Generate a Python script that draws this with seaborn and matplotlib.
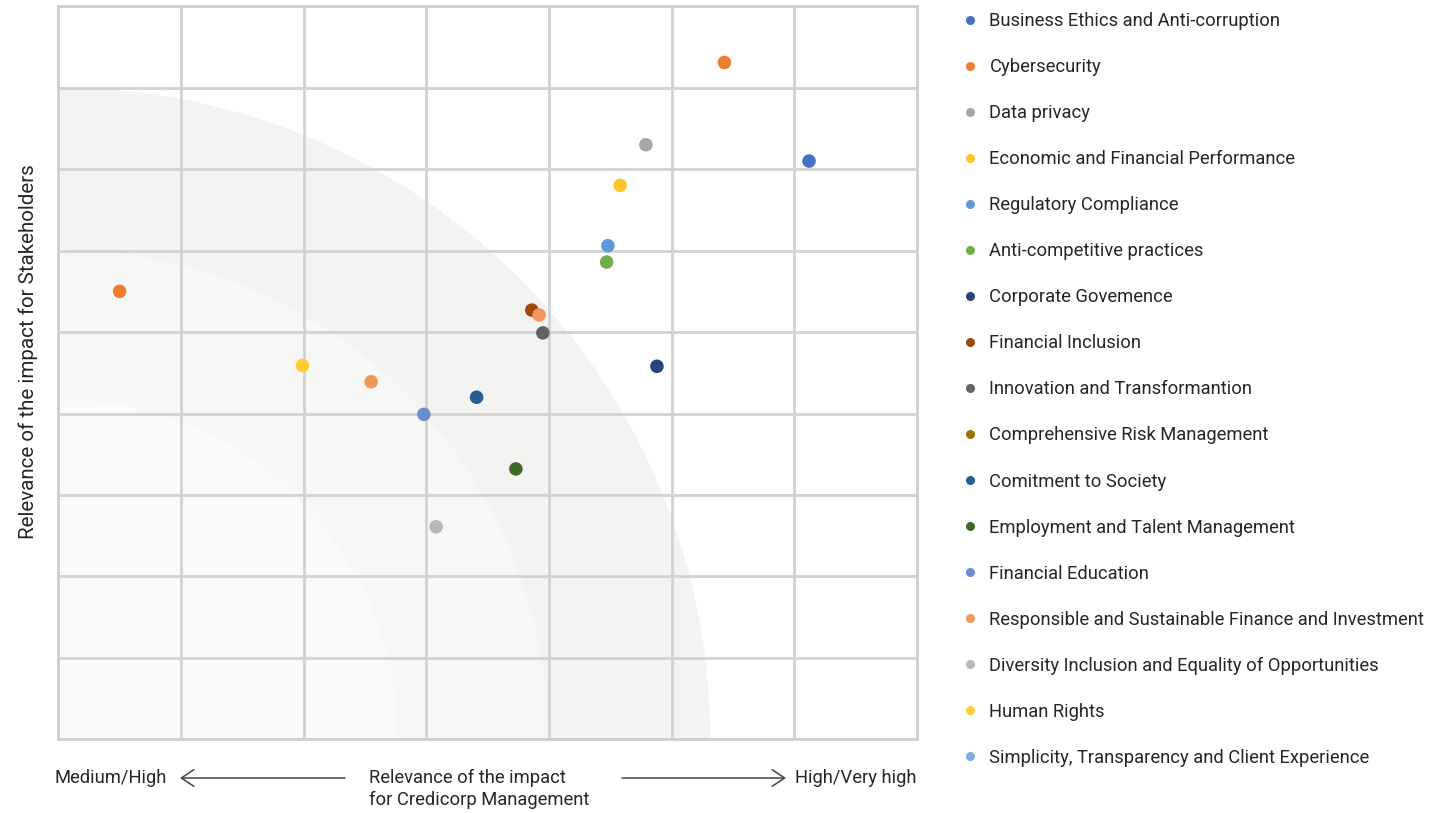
import matplotlib
matplotlib.use("Agg")
import matplotlib.pyplot as plt
from matplotlib.patches import Ellipse, FancyArrowPatch
from matplotlib.lines import Line2D
import seaborn as sns
import pandas as pd

# ---- data ----
categories = [
    "Business Ethics and Anti-corruption",
    "Cybersecurity",
    "Data privacy",
    "Economic and Financial Performance",
    "Regulatory Compliance",
    "Anti-competitive practices",
    "Corporate Govemence",
    "Financial Inclusion",
    "Innovation and Transformantion",
    "Comprehensive Risk Management",
    "Comitment to Society",
    "Employment and Talent Management",
    "Financial Education",
    "Responsible and Sustainable Finance and Investment",
    "Diversity Inclusion and Equality of Opportunities",
    "Human Rights",
    "Simplicity, Transparency and Client Experience",
]
colors = [
    "#4472C4", "#ED7D31", "#A5A5A5", "#FFC32E", "#5B9BD5", "#70AD47",
    "#264478", "#9E480E", "#636363", "#997300", "#255E91", "#43682B",
    "#698ED0", "#F1975A", "#B7B7B7", "#FFCD33", "#7CAFDD",
]

point_category = [
    "Business Ethics and Anti-corruption",
    "Cybersecurity",
    "Data privacy",
    "Economic and Financial Performance",
    "Regulatory Compliance",
    "Anti-competitive practices",
    "Corporate Govemence",
    "Financial Inclusion",
    "Innovation and Transformantion",
    "Comitment to Society",
    "Employment and Talent Management",
    "Financial Education",
    "Responsible and Sustainable Finance and Investment",
    "Diversity Inclusion and Equality of Opportunities",
    "Human Rights",
    "Cybersecurity",
    "Responsible and Sustainable Finance and Investment",
]
management = [6.12, 5.43, 4.79, 4.58, 4.48, 4.47, 4.88, 3.86, 3.95, 3.41, 3.73,
              2.98, 2.55, 3.08, 1.99, 0.50, 3.92]
stakeholders = [7.10, 8.31, 7.30, 6.80, 6.06, 5.86, 4.58, 5.27, 4.99, 4.20, 3.32,
                3.99, 4.39, 2.61, 4.59, 5.50, 5.21]

df = pd.DataFrame({"category": point_category, "x": management, "y": stakeholders})
palette = dict(zip(categories, colors))

# ---- figure ----
sns.set_theme(style="white")
plt.rcParams["font.family"] = ["Roboto", "DejaVu Sans"]
W, H = 1445, 813
fig = plt.figure(figsize=(W / 100, H / 100), dpi=100)
x0, x1, yb, yt = 58.3, 917, 739.3, 6.3
ax = fig.add_axes([x0 / W, (H - yb) / H, (x1 - x0) / W, (yb - yt) / H])

ax.set_xlim(0, 7)
ax.set_ylim(0, 9)
px_x = (x1 - x0) / 7
px_y = (yb - yt) / 9

# background arcs (circles in pixel space, centred at bottom-left corner)
for r, c in [(652, "#f3f3f2"), (490, "#f7f7f6"), (340, "#fafaf9")]:
    ax.add_patch(Ellipse((0, 0), 2 * r / px_x, 2 * r / px_y, facecolor=c,
                         edgecolor="none", zorder=0))

ax.set_xticks(range(8))
ax.set_yticks(range(10))
ax.set_axisbelow(True)
ax.grid(True, color="#d2d2d2", linewidth=2.0)
ax.tick_params(length=0, labelbottom=False, labelleft=False)
for s in ax.spines.values():
    s.set_visible(True)
    s.set_color("#cfcfcf")
    s.set_linewidth(2.0)

sns.scatterplot(data=df, x="x", y="y", hue="category", palette=palette, s=95,
                edgecolor="none", linewidth=0, legend=False, ax=ax, zorder=3)
ax.set_xlabel("")
ax.set_ylabel("")

txt = "#262626"
fig.text(28 / W, 1 - 352 / H, "Relevance of the impact for Stakeholders",
         rotation=90, ha="center", va="center", fontsize=14.8, color=txt)

# bottom axis annotation
fs = 13.2
fig.text(55 / W, 1 - 778 / H, "Medium/High", ha="left", va="center", fontsize=fs, color=txt)
fig.text(917 / W, 1 - 778 / H, "High/Very high", ha="right", va="center", fontsize=fs, color=txt)
fig.text(369 / W, 1 - 789 / H, "Relevance of the impact\nfor Credicorp Management",
         ha="left", va="center", fontsize=fs, color=txt, linespacing=1.25)
arrow_kw = dict(arrowstyle="->,head_length=0.45,head_width=0.3", color="#444444",
                lw=1.1, mutation_scale=20, shrinkA=0, shrinkB=0)
fig.add_artist(FancyArrowPatch((345 / W, 1 - 778 / H), (180 / W, 1 - 778 / H),
                               transform=fig.transFigure, **arrow_kw))
fig.add_artist(FancyArrowPatch((622 / W, 1 - 778 / H), (786 / W, 1 - 778 / H),
                               transform=fig.transFigure, **arrow_kw))

# legend
handles = [Line2D([0], [0], marker="o", linestyle="none", markersize=6.5,
                  markerfacecolor=c, markeredgecolor="none") for c in colors]
fig.legend(handles, categories, loc="upper left", bbox_to_anchor=(961 / W, 1 - 12 / H),
           frameon=False, fontsize=fs, labelspacing=1.53, handletextpad=0.55,
           handlelength=1.0, borderaxespad=0, borderpad=0, labelcolor=txt)

fig.savefig("out.png", dpi=100)
